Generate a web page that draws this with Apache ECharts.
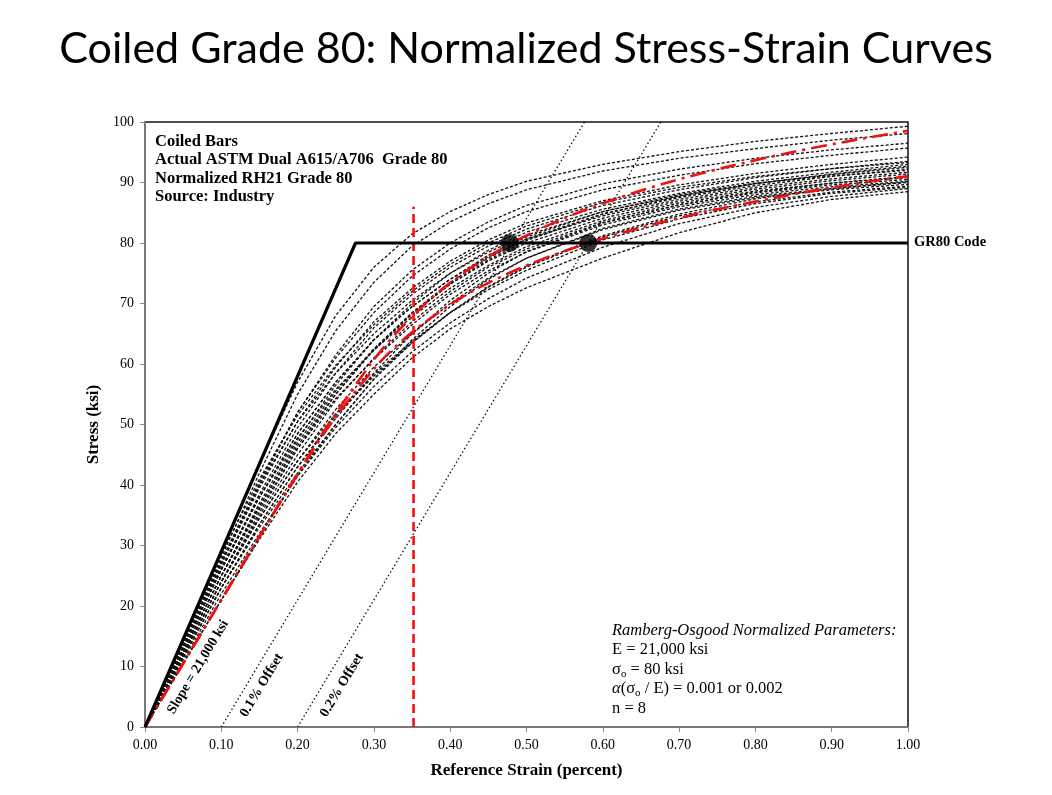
<!DOCTYPE html>
<html>
<head>
<meta charset="utf-8">
<script src="https://cdn.jsdelivr.net/npm/echarts@6.0.0/dist/echarts.min.js"></script>
<style>
  html, body { margin: 0; padding: 0; background: #fff; }
  #frame { width: 1052px; height: 795px; box-sizing: border-box; border: 2px solid #000; position: relative; }
  #chart { position: absolute; left: -2px; top: -2px; width: 1052px; height: 795px; }
</style>
</head>
<body>
<div id="frame"><div id="chart"></div></div>
<script>
// Strain stations (percent) at which each test curve is sampled
const testStrain = [0, 0.05, 0.10, 0.15, 0.20, 0.25, 0.30, 0.35, 0.40, 0.45, 0.50, 0.60, 0.70, 0.80, 0.90, 1.00];

// Normalized stress (ksi) of each coiled-bar test at the strain stations above
const testStress = [
  [0, 14.5, 29, 43.5, 57, 68, 76, 81.5, 85.2, 88, 90.2, 93, 95.1, 96.8, 98.1, 99.3],
  [0, 14, 28, 42, 55, 65.5, 73.5, 79.5, 83.5, 86.5, 88.8, 91.9, 94, 95.6, 97, 98.1],
  [0, 13.5, 27, 40, 52, 61.5, 69.5, 75.5, 80, 83.5, 86.2, 89.8, 92.2, 94, 95.4, 96.5],
  [0, 13.7, 27.5, 40.5, 52, 61, 68.5, 74.5, 79, 82.5, 85.2, 88.8, 91.2, 93.1, 94.5, 95.7],
  [0, 13.5, 27, 39.5, 50.5, 59.5, 67, 72.5, 77, 80.5, 83.3, 87, 89.6, 91.5, 93, 94.2],
  [0, 13, 26, 38.5, 49.5, 58.5, 66, 71.5, 76, 79.5, 82.3, 86.2, 88.8, 90.8, 92.3, 93.5],
  [0, 12.5, 25, 37, 47.5, 56.5, 64, 70, 75, 78.8, 81.8, 85.6, 88.2, 90.2, 91.7, 93],
  [0, 13.7, 27.5, 40, 50.5, 58.5, 65, 70.5, 75, 78.5, 81.3, 85.2, 87.8, 89.8, 91.4, 92.7],
  [0, 12, 24, 35.5, 46, 55, 62.5, 68.5, 73.5, 77.5, 80.7, 84.8, 87.5, 89.5, 91, 92.2],
  [0, 13, 26, 38, 48.5, 57, 64, 69.5, 74, 77.7, 80.6, 84.5, 87.2, 89.2, 90.6, 91.7],
  [0, 12.5, 25, 36.5, 47, 55.5, 62.5, 68.3, 73.2, 77, 80, 84.1, 86.9, 88.9, 90.3, 91.4],
  [0, 11.5, 23, 33.5, 43, 51, 58.5, 65, 70.5, 75, 78.6, 83.3, 86.3, 88.4, 89.9, 91],
  [0, 13.2, 26.5, 38, 47.8, 55.8, 62.3, 67.8, 72.5, 76.3, 79.4, 83.7, 86.6, 88.6, 89.9, 90.8],
  [0, 12, 24, 35, 45, 54, 61, 67, 72, 76, 79, 83.4, 86.3, 88.3, 89.6, 90.5],
  [0, 12.5, 25, 36, 46, 54.3, 60.8, 66.5, 71.5, 75.4, 78.5, 83, 86, 88, 89.3, 90.2],
  [0, 11.5, 23, 33, 42, 50, 57.5, 64, 69.5, 74, 77.5, 82.4, 85.6, 87.7, 89, 90],
  [0, 12, 24, 34.5, 44, 52.5, 59.5, 65, 70, 74.2, 77.5, 82.2, 85.4, 87.5, 88.8, 89.7],
  [0, 12.5, 25, 36.5, 46.5, 55, 62.3, 68.3, 73.2, 77.2, 80.4, 84.8, 87.7, 89.8, 91.3, 92.5],
  [0, 14.2, 28.5, 41, 51.5, 59.8, 66.5, 72, 76.5, 80, 82.8, 86.7, 89.2, 91, 92.3, 93.3],
  [0, 13, 26, 38, 48.5, 57, 64, 69.5, 74, 78, 81, 85.2, 88, 89.9, 91.1, 92],
  [0, 11.5, 23, 33.5, 43, 51.5, 58, 63.5, 68.5, 72.7, 76, 81, 84.5, 86.8, 88.4, 89.4],
  [0, 11, 22, 32, 41.5, 49.5, 56.3, 62, 66.8, 70.8, 74.2, 79.3, 83.2, 85.9, 87.7, 89],
  [0, 10.5, 21, 31, 40.5, 48.5, 55, 61, 65.8, 69.5, 72.6, 77.5, 81.7, 85, 87.2, 88.5],
  [0, 12, 24, 34.5, 44, 51.8, 58.3, 63.8, 68.5, 72.3, 75.5, 80.5, 84, 86.5, 88.2, 89.2],
  [0, 10.5, 21, 31.5, 41.5, 50, 57.5, 63.5, 68.5, 72.8, 76.2, 81.2, 84.8, 87.3, 89, 90.1]
];

// Ramberg-Osgood normalized curves, [strain %, stress ksi]
const roOffset001 = [[0,0],[0.0476,10],[0.0952,20],[0.1429,30],[0.1909,40],[0.2404,50],[0.2957,60],[0.3285,65],[0.3677,70],[0.3907,72.5],[0.4168,75],[0.4466,77.5],[0.4810,80],[0.5208,82.5],[0.5672,85],[0.6215,87.5],[0.6852,90],[0.7600,92.5],[0.8478,95],[0.9291,97],[1.0,98.55]];
const roOffset002 = [[0,0],[0.0476,10],[0.0952,20],[0.1430,30],[0.1913,40],[0.2428,50],[0.3057,60],[0.3475,65],[0.4020,70],[0.4362,72.5],[0.4764,75],[0.5241,77.5],[0.5810,80],[0.6487,82.5],[0.7296,85],[0.8263,87.5],[0.8931,89],[0.9418,90],[1.0,91.05]];

// GR80 code bilinear model, offset lines and markers
const codeLine = [[0,0],[0.2759,80],[1.0,80]];
const offset01 = [[0.1,0],[0.576,100]];
const offset02 = [[0.2,0],[0.676,100]];
const refStrainLine = [[0.352,0],[0.352,86]];
const yieldPoints = [[0.478,80],[0.581,80]];

const xTicks = { min: 0, max: 1, interval: 0.1 };
const yTicks = { min: 0, max: 100, interval: 10 };

const serif = '"Liberation Serif", "Times New Roman", serif';
const chart = echarts.init(document.getElementById('chart'), null, { renderer: 'canvas' });

const series = [];
testStress.forEach((row, i) => {
  series.push({
    type: 'line', name: 'test' + i, smooth: false,
    showSymbol: false, silent: true, z: 2,
    data: row.map((s, k) => [testStrain[k], s]),
    lineStyle: { color: '#111', width: 1.3, type: [3, 2] }
  });
});
[roOffset001, roOffset002].forEach((d, i) => {
  series.push({
    type: 'line', name: 'ro' + i, smooth: 0.3, showSymbol: false, silent: true, z: 4,
    data: d, lineStyle: { color: '#ee1111', width: 2.6, type: [16, 6, 3, 6] }
  });
});
[offset01, offset02].forEach((d, i) => {
  series.push({
    type: 'line', name: 'off' + i, showSymbol: false, silent: true, z: 3,
    data: d, lineStyle: { color: '#111', width: 1.3, type: [1.5, 2.5] }
  });
});
series.push({
  type: 'line', name: 'ref', showSymbol: false, silent: true, z: 4,
  data: refStrainLine, lineStyle: { color: '#ee1111', width: 2.6, type: [9, 5] }
});
series.push({
  type: 'line', name: 'code', showSymbol: false, silent: true, z: 5,
  data: codeLine, lineStyle: { color: '#000', width: 3.2 }
});
series.push({
  type: 'scatter', name: 'yield', silent: true, z: 6,
  data: yieldPoints, symbolSize: 18, itemStyle: { color: '#000' }
});

const axisLabelStyle = { color: '#000', fontFamily: serif, fontSize: 14 };
const axisNameStyle = { fontFamily: serif, fontWeight: 'bold', fontSize: 17, color: '#000' };

chart.setOption({
  animation: false,
  backgroundColor: '#fff',
  title: {
    text: 'Coiled Grade 80: Normalized Stress-Strain Curves',
    left: 'center', top: 23,
    textStyle: { fontFamily: 'Lato, "Open Sans", sans-serif', fontWeight: 'normal', fontSize: 43, color: '#000' }
  },
  grid: { left: 145, right: 144, top: 122, bottom: 68, show: true, borderColor: '#111', borderWidth: 1.5, backgroundColor: 'transparent' },
  xAxis: {
    type: 'value', min: xTicks.min, max: xTicks.max, interval: xTicks.interval,
    name: 'Reference Strain (percent)', nameLocation: 'middle', nameGap: 35,
    nameTextStyle: axisNameStyle,
    axisLine: { onZero: false, lineStyle: { color: '#888', width: 1.5 } },
    axisTick: { show: true, length: 5, lineStyle: { color: '#888' } },
    splitLine: { show: false },
    axisLabel: Object.assign({ formatter: v => v.toFixed(2), margin: 11 }, axisLabelStyle)
  },
  yAxis: {
    type: 'value', min: yTicks.min, max: yTicks.max, interval: yTicks.interval,
    name: 'Stress (ksi)', nameLocation: 'middle', nameGap: 34,
    nameTextStyle: axisNameStyle,
    axisLine: { show: true, lineStyle: { color: '#888', width: 1.5 } },
    axisTick: { show: true, length: 5, lineStyle: { color: '#888' } },
    splitLine: { show: false },
    axisLabel: Object.assign({ margin: 11 }, axisLabelStyle)
  },
  series: series
});

// Annotation text placed along the lines it names
function rotatedLabel(text, at, along) {
  const p = chart.convertToPixel({ gridIndex: 0 }, at);
  const a = chart.convertToPixel({ gridIndex: 0 }, along[0]);
  const b = chart.convertToPixel({ gridIndex: 0 }, along[1]);
  const ang = Math.atan2(-(b[1] - a[1]), b[0] - a[0]);
  return {
    type: 'text', x: p[0], y: p[1], rotation: ang, z: 10,
    style: { text: text, fill: '#000', font: 'bold 14px ' + serif, align: 'center', verticalAlign: 'middle' }
  };
}

const infoLines = ['Coiled Bars', 'Actual ASTM Dual A615/A706  Grade 80', 'Normalized RH21 Grade 80', 'Source: Industry'];
const graphics = [{
  type: 'text', left: 155, top: 132, z: 10,
  style: { text: infoLines.join('\n'), fill: '#000', font: 'bold 16.5px ' + serif, lineHeight: 18.5 }
}];

graphics.push({
  type: 'text', left: 914, top: 235, z: 10,
  style: { text: 'GR80 Code', fill: '#000', font: 'bold 14.5px ' + serif }
});

graphics.push({
  type: 'text', left: 612, top: 622, z: 10,
  style: {
    text: [
      '{i|Ramberg-Osgood Normalized Parameters:}',
      '{n|E = 21,000 ksi}',
      '{n|σ}{sub|o}{n| = 80 ksi}',
      '{i|α}{n|(σ}{sub|o}{n| / E) = 0.001 or 0.002}',
      '{n|n = 8}'
    ].join('\n'),
    fill: '#000',
    rich: {
      i: { fontFamily: serif, fontStyle: 'italic', fontSize: 16.5, lineHeight: 19.5, fill: '#000' },
      n: { fontFamily: serif, fontSize: 16.5, lineHeight: 19.5, fill: '#000' },
      sub: { fontFamily: serif, fontSize: 11, lineHeight: 19.5, padding: [9, 0, 0, 0], fill: '#000' }
    }
  }
});

graphics.push(rotatedLabel('Slope = 21,000 ksi', [0.0695, 9.9], [[0, 0], [0.0952, 20]]));
graphics.push(rotatedLabel('0.1% Offset', [0.153, 6.9], offset01));
graphics.push(rotatedLabel('0.2% Offset', [0.258, 6.9], offset02));

chart.setOption({ graphic: graphics });
</script>
</body>
</html>
